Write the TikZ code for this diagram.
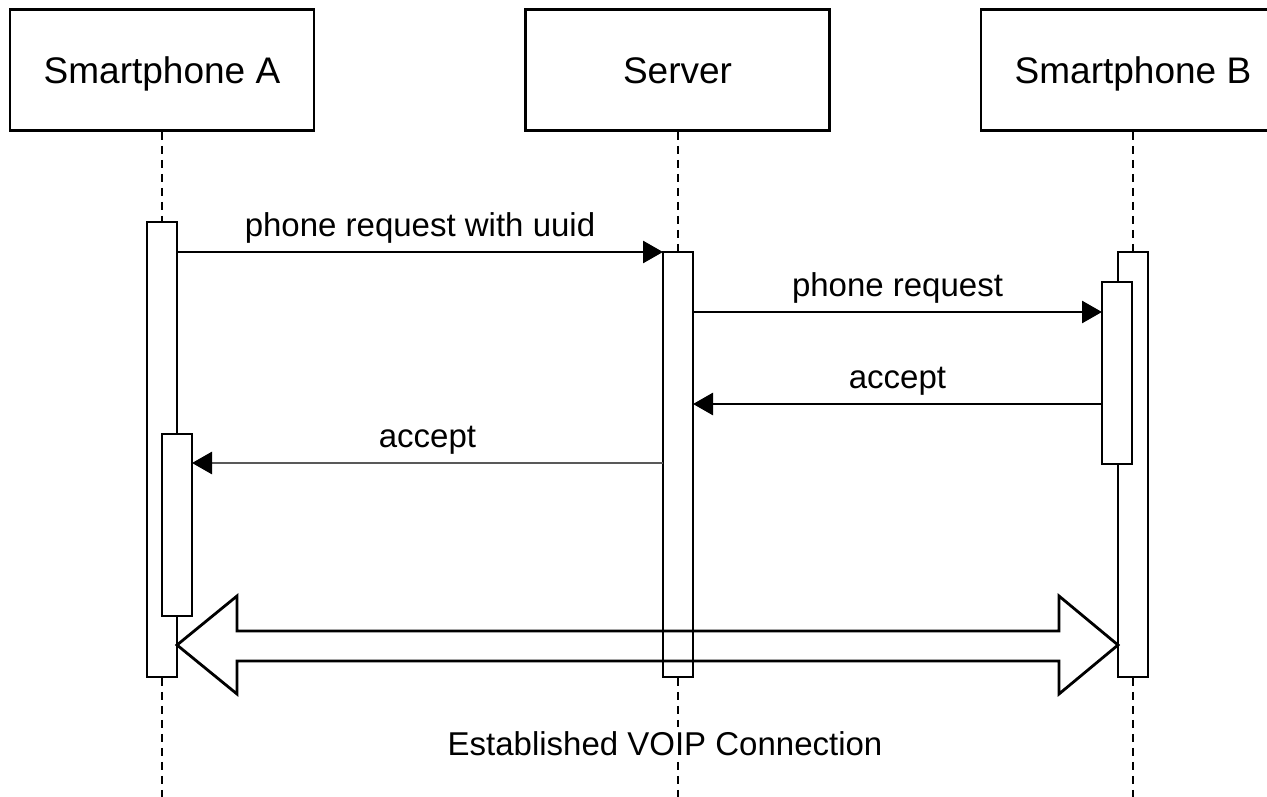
\documentclass[tikz,border=0pt]{standalone}
\usepackage{fontspec}
\setmainfont{Liberation Sans}
\usetikzlibrary{arrows.meta,calc}
\begin{document}
\begin{tikzpicture}[x=1pt,y=-1pt,
  actor/.style={draw,line width=2.8pt,fill=white,minimum width=304pt,minimum height=121pt,inner sep=0pt,text height=27pt,text depth=0pt,font=\fontsize{37}{40}\selectfont},
  lifeline/.style={line width=2pt,dash pattern=on 8pt off 6pt},
  bar/.style={draw,line width=2.8pt,fill=white,minimum width=30pt,inner sep=0pt,outer sep=0pt},
  msg/.style={line width=2.8pt,-{Triangle[length=20pt,width=22pt,color=black]}},
  lbl/.style={font=\fontsize{33}{36}\selectfont,inner sep=0pt},
  mlbl/.style={lbl,midway,anchor=base,yshift=16pt}]
\useasboundingbox (0,0) rectangle (1267,797);
\fill[white] (0,0) rectangle (1267,797);
\begin{scope}
\clip (0,0) rectangle (1267,797);
\node[actor] (A) at (162,70) {Smartphone A};
\node[actor] (S) at (677.5,70) {Server};
\node[actor] (B) at (1133,70) {Smartphone B};
\end{scope}
\coordinate (Aend) at (162,797);
\coordinate (Send) at (677.5,797);
\coordinate (Bend) at (1133,797);
\draw[lifeline] (A.south) -- (Aend);
\draw[lifeline] (S.south) -- (Send);
\draw[lifeline] (B.south) -- (Bend);
\node[lbl,fill=white,inner sep=4pt,anchor=base] (est) at (665,755) {Established VOIP Connection};
% activation bars
\node[bar,minimum height=455pt] (aO) at (162,449.5) {};
\node[bar,minimum height=182pt] (aI) at (177,525) {};
\node[bar,minimum height=425pt] (sv) at (678,464.5) {};
\node[bar,minimum height=425pt] (bO) at (1133,464.5) {};
\node[bar,minimum height=182pt] (bI) at (1117,373) {};
% messages
\coordinate (y2) at (0,312);
\coordinate (y3) at (0,404);
\coordinate (y4) at (0,463);
\draw[msg] (aO.east |- sv.north west) -- (sv.north west)
  node[mlbl] {phone request with uuid};
\draw[msg] (sv.east |- y2) -- (bI.west |- y2)
  node[mlbl] {phone request};
\draw[msg] (bI.west |- y3) -- (sv.east |- y3)
  node[mlbl] {accept};
\draw[msg,draw=black!65] (sv.west |- y4) -- (aI.east |- y4)
  node[mlbl,text=black] {accept};
% double arrow
\coordinate (dl) at (aO.east |- 0,645);
\coordinate (dr) at (bO.west |- 0,645);
\draw[line width=2.8pt,line join=miter]
  (dl) -- ($(dl)+(60,-49)$) -- ($(dl)+(60,-14)$) -- ($(dr)+(-59,-14)$) -- ($(dr)+(-59,-49)$) -- (dr)
  -- ($(dr)+(-59,49)$) -- ($(dr)+(-59,16)$) -- ($(dl)+(60,16)$) -- ($(dl)+(60,49)$) -- cycle;
\end{tikzpicture}
\end{document}
